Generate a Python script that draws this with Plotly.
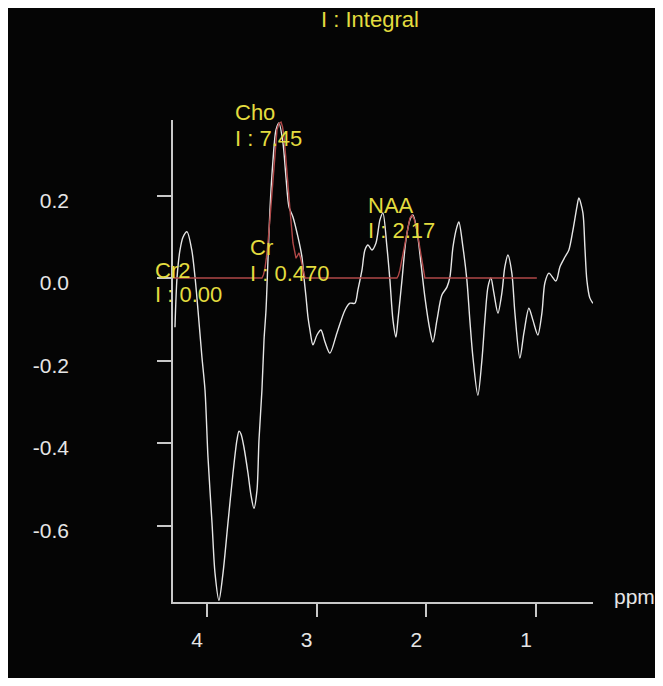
import plotly.graph_objects as go

# ---- data ----
spec_ppm = [4.292, 4.273, 4.246, 4.219, 4.182, 4.139, 4.109, 4.082, 4.046, 4.018,
            3.991, 3.954, 3.927, 3.891, 3.854, 3.809, 3.763, 3.727, 3.708, 3.690,
            3.663, 3.626, 3.599, 3.572, 3.544, 3.526, 3.499, 3.480, 3.462, 3.444,
            3.426, 3.398, 3.371, 3.344, 3.307, 3.280, 3.252, 3.216, 3.170, 3.134,
            3.116, 3.097, 3.079, 3.061, 3.034, 2.997, 2.961, 2.924, 2.879, 2.815,
            2.742, 2.696, 2.651, 2.624, 2.587, 2.560, 2.532, 2.496, 2.459, 2.423,
            2.396, 2.359, 2.332, 2.304, 2.277, 2.259, 2.222, 2.186, 2.149, 2.122,
            2.086, 2.049, 2.013, 1.967, 1.940, 1.903, 1.858, 1.812, 1.785, 1.757,
            1.721, 1.703, 1.666, 1.630, 1.603, 1.575, 1.530, 1.493, 1.466, 1.438,
            1.411, 1.384, 1.347, 1.311, 1.284, 1.256, 1.220, 1.192, 1.147, 1.110,
            1.065, 1.028, 0.983, 0.946, 0.919, 0.882, 0.818, 0.782, 0.736, 0.700,
            0.663, 0.627, 0.609, 0.572, 0.554, 0.536, 0.509, 0.481]
spec_val = [-0.119, 0.002, 0.068, 0.099, 0.112, 0.068, 0.002, -0.078, -0.192, -0.272,
            -0.434, -0.594, -0.715, -0.781, -0.715, -0.594, -0.473, -0.393, -0.371, -0.378,
            -0.410, -0.473, -0.526, -0.558, -0.514, -0.393, -0.272, -0.150, -0.078, 0.044,
            0.165, 0.286, 0.359, 0.376, 0.327, 0.245, 0.172, 0.148, 0.099, 0.051,
            0.002, -0.046, -0.095, -0.126, -0.162, -0.138, -0.126, -0.155, -0.182, -0.133,
            -0.078, -0.061, -0.061, -0.029, 0.019, 0.068, 0.080, 0.068, 0.085, 0.141,
            0.158, 0.075, -0.005, -0.102, -0.143, -0.102, -0.005, 0.092, 0.141, 0.153,
            0.116, 0.036, -0.046, -0.126, -0.155, -0.102, -0.041, -0.022, 0.002, 0.075,
            0.124, 0.136, 0.075, -0.005, -0.102, -0.192, -0.284, -0.199, -0.102, -0.022,
            0.000, -0.036, -0.085, -0.036, 0.027, 0.056, 0.012, -0.085, -0.194, -0.133,
            -0.073, -0.102, -0.138, -0.085, -0.012, 0.012, -0.007, 0.027, 0.051, 0.068,
            0.116, 0.172, 0.194, 0.158, 0.075, -0.005, -0.048, -0.061]

fit_ppm = [4.31, 3.499, 3.485, 3.471, 3.458, 3.444, 3.421, 3.398, 3.380, 3.362,
           3.344, 3.325, 3.311, 3.298, 3.284, 3.270, 3.243, 3.216, 3.200, 3.188,
           3.175, 3.161, 3.148, 3.134, 3.120, 3.106, 2.268, 2.255, 2.241, 2.227,
           2.213, 2.190, 2.168, 2.150, 2.131, 2.110, 2.086, 2.068, 2.049, 2.030,
           2.013, 0.992]
fit_val = [0.0, 0.0, 0.008, 0.024, 0.050, 0.085, 0.160, 0.245, 0.310, 0.359,
           0.374, 0.378, 0.366, 0.342, 0.300, 0.245, 0.165, 0.085, 0.058, 0.048,
           0.054, 0.061, 0.050, 0.032, 0.012, 0.0, 0.0, 0.006, 0.019, 0.038,
           0.061, 0.095, 0.124, 0.145, 0.153, 0.142, 0.116, 0.085, 0.051, 0.018,
           0.0, 0.0]

metabolites = ["Cho", "Cr", "Cr2", "NAA"]
integrals = ["7.45", "0.470", "0.00", "2.17"]
x_ticks = [4, 3, 2, 1]
y_ticks = [-0.6, -0.4, -0.2, 0.0, 0.2]

X_RANGE = [4.31, 0.48]
Y_RANGE = [-0.785, 0.383]

# label anchor positions (ppm, value of line 1, value of line 2)
label_pos = {
    "Cho": (3.763, 0.402, 0.339),
    "Cr": (3.626, 0.073, 0.012),
    "Cr2": (4.492, 0.019, -0.039),
    "NAA": (2.551, 0.177, 0.116),
}

def to_paper(ppm, val):
    xp = (X_RANGE[0] - ppm) / (X_RANGE[0] - X_RANGE[1])
    yp = (val - Y_RANGE[0]) / (Y_RANGE[1] - Y_RANGE[0])
    return xp, yp

YELLOW = "#e3dc3f"
GREY = "#c8c8c8"
TXT = "#e6e6e6"
FONT = "Liberation Sans, Arial, sans-serif"

fig = go.Figure()
fig.add_trace(go.Scatter(x=spec_ppm, y=spec_val, mode="lines",
                         line=dict(color="#e6e6e6", width=1.4, shape="spline", smoothing=0.8),
                         hoverinfo="skip", showlegend=False))
fig.add_trace(go.Scatter(x=fit_ppm, y=fit_val, mode="lines",
                         line=dict(color="#b04848", width=1.4),
                         hoverinfo="skip", showlegend=False))

annotations = []
for name, integ in zip(metabolites, integrals):
    ppm, y1, y2 = label_pos[name]
    for txt, yv in ((name, y1), ("I : " + integ, y2)):
        xp, yp = to_paper(ppm, yv)
        annotations.append(dict(x=xp, y=yp, xref="paper", yref="paper", text=txt,
                                showarrow=False, xanchor="left", yanchor="middle",
                                font=dict(color=YELLOW, size=22, family=FONT)))
annotations.append(dict(x=0.469, y=1.2075, xref="paper", yref="paper", text="I : Integral",
                        showarrow=False, xanchor="center", yanchor="middle",
                        font=dict(color=YELLOW, size=22, family=FONT)))
annotations.append(dict(x=1.045, y=0.012, xref="paper", yref="paper", text="ppm",
                        showarrow=False, xanchor="left", yanchor="middle",
                        font=dict(color=TXT, size=21, family=FONT)))

fig.update_layout(
    width=647, height=670,
    margin=dict(l=165, r=62, t=112, b=76),
    paper_bgcolor="#050505", plot_bgcolor="#050505",
    annotations=annotations,
    xaxis=dict(range=X_RANGE, tickvals=x_ticks, ticktext=[str(t) for t in x_ticks],
               showgrid=False, zeroline=False, showline=True, linecolor=GREY, linewidth=1.5,
               ticks="outside", ticklen=13, tickwidth=1.5, tickcolor=GREY,
               tickfont=dict(color=TXT, size=21, family=FONT),
               ticklabelstandoff=5, ticklabelshift=10),
    yaxis=dict(range=Y_RANGE, tickvals=y_ticks,
               ticktext=["%.1f" % t for t in y_ticks],
               showgrid=False, zeroline=False, showline=True, linecolor=GREY, linewidth=1.5,
               ticks="outside", ticklen=14, tickwidth=1.5, tickcolor=GREY,
               tickfont=dict(color=TXT, size=21, family=FONT),
               ticklabelstandoff=84, ticklabelshift=5),
)

fig.write_html("out.html")
